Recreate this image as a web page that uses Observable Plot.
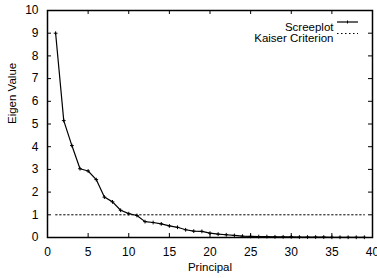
<!DOCTYPE html>
<html>
<head>
<meta charset="utf-8">
<script src="https://cdn.jsdelivr.net/npm/d3@7"></script>
<script src="https://cdn.jsdelivr.net/npm/@observablehq/plot@0.6"></script>
<style>
  html, body { margin: 0; padding: 0; background: #fff; }
  svg { font-family: "Liberation Sans", Arial, sans-serif; }
</style>
</head>
<body>
<div id="chart"></div>
<script>
const principal = [1,2,3,4,5,6,7,8,9,10,11,12,13,14,15,16,17,18,19,20,21,22,23,24,25,26,27,28,29,30,31,32,33,34,35,36,37,38,39];
const eigenValues = [9.0,5.15,4.05,3.03,2.93,2.55,1.78,1.57,1.2,1.05,0.97,0.70,0.66,0.60,0.51,0.45,0.34,0.28,0.27,0.19,0.15,0.12,0.09,0.06,0.05,0.04,0.04,0.03,0.03,0.03,0.02,0.02,0.02,0.02,0.01,0.01,0.01,0.01,0.01];
const kaiserX = [1, 39];
const kaiserY = [1, 1];
const xTicks = [0,5,10,15,20,25,30,35,40];
const yTicks = [0,1,2,3,4,5,6,7,8,9,10];
const seriesNames = ["Screeplot", "Kaiser Criterion"];
const xLabel = "Principal";
const yLabel = "Eigen Value";

const scree = principal.map((p, i) => ({x: p, y: eigenValues[i]}));
const kaiser = kaiserX.map((x, i) => ({x, y: kaiserY[i]}));

const W = 377, H = 278;
const mL = 47, mR = 5, mT = 10, mB = 41;
const innerH = H - mT - mB, innerW = W - mL - mR;
const tk = 4;

const chart = Plot.plot({
  width: W, height: H,
  marginLeft: mL, marginRight: mR, marginTop: mT, marginBottom: mB,
  style: {fontSize: "12px", fontFamily: "Liberation Sans, Arial, sans-serif", color: "black", background: "white", overflow: "visible"},
  x: {domain: [0, 40]},
  y: {domain: [0, 10]},
  marks: [
    Plot.axisX(xTicks, {tickSize: 0, tickPadding: 10, fontSize: 12, label: null}),
    Plot.axisY(yTicks, {tickSize: 0, tickPadding: 9, fontSize: 12, label: null}),
    Plot.text([xLabel], {text: d => d, frameAnchor: "bottom", dy: 33, fontSize: 11.5}),
    Plot.text([yLabel], {text: d => d, frameAnchor: "left", dx: -35, rotate: -90, fontSize: 11.5}),
    Plot.tickX(xTicks.slice(1, -1), {x: d => d, insetTop: innerH - tk, stroke: "black"}),
    Plot.tickX(xTicks.slice(1, -1), {x: d => d, insetBottom: innerH - tk, stroke: "black"}),
    Plot.tickY(yTicks.slice(1, -1), {y: d => d, insetRight: innerW - tk, stroke: "black"}),
    Plot.tickY(yTicks.slice(1, -1), {y: d => d, insetLeft: innerW - tk, stroke: "black"}),
    Plot.line(kaiser, {x: "x", y: "y", stroke: "black", strokeWidth: 1, strokeDasharray: "1.5,2.5"}),
    Plot.line(scree, {x: "x", y: "y", stroke: "black", strokeWidth: 1.2}),
    Plot.dot(scree, {x: "x", y: "y", symbol: "plus", r: 1.3, stroke: "black", strokeWidth: 1}),
    Plot.text([seriesNames[0]], {text: d => d, frameAnchor: "top-right", dx: -39, dy: 12, textAnchor: "end", fontSize: 11.5}),
    Plot.text([seriesNames[1]], {text: d => d, frameAnchor: "top-right", dx: -39, dy: 23.5, textAnchor: "end", fontSize: 11.5}),
    Plot.frame({stroke: "black", strokeWidth: 1.5})
  ]
});

// legend samples
const svg = d3.select(chart);
const lx1 = W - mR - 35, lx2 = W - mR - 14;
const g = svg.append("g").attr("stroke", "black");
g.append("line").attr("x1", lx1).attr("x2", lx2).attr("y1", mT + 12).attr("y2", mT + 12).attr("stroke-width", 1.2);
const cx = (lx1 + lx2) / 2;
g.append("line").attr("x1", cx).attr("x2", cx).attr("y1", mT + 10.5).attr("y2", mT + 13.5);
g.append("line").attr("x1", lx1).attr("x2", lx2).attr("y1", mT + 23.5).attr("y2", mT + 23.5).attr("stroke-dasharray", "1.5,2.5");

document.getElementById("chart").appendChild(chart);
</script>
</body>
</html>
